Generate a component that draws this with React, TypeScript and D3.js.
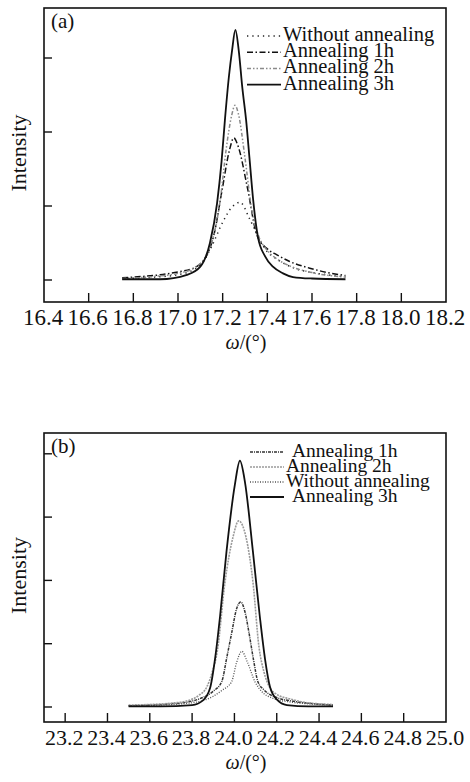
import React from 'react';
import * as d3 from 'd3';

// panel (a) rocking curves, [omega, intensity]
const aWithout: [number, number][] = [
  [16.75, 0.02], [16.9, 0.04], [17.0, 0.07], [17.1, 0.2], [17.15, 0.45], [17.2, 0.78],
  [17.24, 0.98], [17.278, 1.05], [17.32, 0.83], [17.36, 0.58], [17.39, 0.42], [17.45, 0.27],
  [17.52, 0.16], [17.6, 0.1], [17.67, 0.07], [17.75, 0.04],
];
const a1h: [number, number][] = [
  [16.75, 0.03], [16.85, 0.05], [16.92, 0.07], [17.0, 0.11], [17.07, 0.16], [17.13, 0.34],
  [17.16, 0.6], [17.2, 1.26], [17.23, 1.75], [17.25, 1.92], [17.27, 1.8], [17.31, 1.26],
  [17.354, 0.6], [17.4, 0.42], [17.443, 0.34], [17.5, 0.25], [17.59, 0.16], [17.67, 0.1],
  [17.75, 0.06],
];
const a2h: [number, number][] = [
  [16.75, 0.02], [16.9, 0.05], [17.0, 0.09], [17.07, 0.16], [17.12, 0.3], [17.15, 0.5],
  [17.19, 1.1], [17.215, 1.75], [17.24, 2.22], [17.255, 2.36], [17.27, 2.25], [17.3, 1.65],
  [17.33, 0.95], [17.36, 0.6], [17.4, 0.4], [17.45, 0.27], [17.5, 0.19], [17.6, 0.1],
  [17.75, 0.04],
];
const a3h: [number, number][] = [
  [16.75, 0.01], [16.92, 0.01], [17.04, 0.07], [17.1, 0.18], [17.143, 0.5], [17.175, 1.04],
  [17.195, 1.6], [17.21, 2.16], [17.228, 2.75], [17.242, 3.1], [17.257, 3.38], [17.272, 3.1],
  [17.288, 2.6], [17.305, 2.16], [17.32, 1.65], [17.336, 1.1], [17.358, 0.58], [17.39, 0.32],
  [17.425, 0.18], [17.47, 0.09], [17.515, 0.04], [17.6, 0.02], [17.75, 0.01],
];

// panel (b)
const b1h: [number, number][] = [
  [23.5, 0.02], [23.6, 0.03], [23.7, 0.05], [23.78, 0.08], [23.85, 0.15], [23.9, 0.25],
  [23.94, 0.4], [23.965, 0.8], [23.987, 1.17], [24.01, 1.55], [24.03, 1.66], [24.05, 1.5],
  [24.069, 1.17], [24.09, 0.75], [24.111, 0.4], [24.14, 0.27], [24.2, 0.15], [24.28, 0.09],
  [24.38, 0.05], [24.466, 0.03],
];
const b2h: [number, number][] = [
  [23.5, 0.03], [23.6, 0.04], [23.7, 0.06], [23.78, 0.1], [23.83, 0.18], [23.87, 0.32],
  [23.895, 0.55], [23.92, 0.9], [23.955, 1.96], [23.993, 2.68], [24.02, 2.94], [24.055, 2.68],
  [24.088, 1.96], [24.116, 0.95], [24.14, 0.55], [24.168, 0.3], [24.2, 0.2], [24.26, 0.13],
  [24.32, 0.08], [24.4, 0.05], [24.466, 0.04],
];
const bWithout: [number, number][] = [
  [23.5, 0.02], [23.65, 0.03], [23.75, 0.05], [23.85, 0.1], [23.9, 0.17], [23.94, 0.26],
  [23.987, 0.4], [24.01, 0.7], [24.035, 0.88], [24.06, 0.72], [24.097, 0.4], [24.13, 0.24],
  [24.18, 0.14], [24.26, 0.08], [24.35, 0.05], [24.466, 0.03],
];
const b3h: [number, number][] = [
  [23.5, 0.01], [23.65, 0.01], [23.8, 0.03], [23.85, 0.1], [23.885, 0.3], [23.91, 0.8],
  [23.932, 1.43], [23.963, 2.47], [24.002, 3.51], [24.026, 3.89], [24.05, 3.55], [24.087, 2.47],
  [24.12, 1.43], [24.145, 0.75], [24.168, 0.32], [24.2, 0.12], [24.248, 0.03], [24.35, 0.01],
  [24.466, 0.01],
];

const aTicks = [16.4, 16.6, 16.8, 17.0, 17.2, 17.4, 17.6, 17.8, 18.0, 18.2];
const bTicks = [23.2, 23.4, 23.6, 23.8, 24.0, 24.2, 24.4, 24.6, 24.8, 25.0];
const aYTicks = [0, 1, 2, 3];
const bYTicks = [0, 1, 2, 3, 4];

const FONT = 'Liberation Serif';

type Series = { label: string; data: [number, number][]; stroke: string; dash?: string; width: number; lx: number };

const Panel = ({ tag, top, bottom, baseY, tickStep, xDomain, xTicks, yTicks, series, legendTop, legendGap, lineX, legendSize, tickSize }: any) => {
  const left = 44, right = 446;
  const x = d3.scaleLinear().domain(xDomain).range([left, right]);
  const y = d3.scaleLinear().domain([0, 1]).range([baseY, baseY - tickStep]);
  const line = d3.line<[number, number]>().x(d => x(d[0])).y(d => y(d[1])).curve(d3.curveMonotoneX);
  const midY = (top + bottom) / 2;
  return (
    <g>
      {series.map((s: Series) => (
        <path key={s.label} d={line(s.data) || ''} fill="none" stroke={s.stroke}
          strokeWidth={s.width} strokeDasharray={s.dash} strokeLinejoin="round" />
      ))}
      <rect x={left} y={top} width={right - left} height={bottom - top} fill="none" stroke="#111" strokeWidth={1.6} />
      {xTicks.map((t: number) => {
        const px = x(t);
        return (
          <g key={t}>
            {px > left + 2 && px < right - 2 && (
              <line x1={px} x2={px} y1={bottom} y2={bottom - 9} stroke="#111" strokeWidth={1.4} />
            )}
            <text x={px - 1} y={bottom + 23} textAnchor="middle" fontSize={tickSize} fill="#111" fontFamily={FONT}>
              {t.toFixed(1)}
            </text>
          </g>
        );
      })}
      {yTicks.map((t: number) => (
        <line key={t} x1={left} x2={left + 8} y1={y(t)} y2={y(t)} stroke="#111" strokeWidth={1.4} />
      ))}
      <text x={(left + right) / 2 + 1} y={bottom + 47} textAnchor="middle" fontSize={20} fill="#111" fontFamily={FONT}>
        <tspan fontStyle="italic">ω</tspan>/(°)
      </text>
      <text transform={`translate(26,${midY - 2}) rotate(-90)`} textAnchor="middle" fontSize={22} fill="#111" fontFamily={FONT}>
        Intensity
      </text>
      <text x={51} y={top + 20} fontSize={21} fill="#111" fontFamily={FONT}>{tag}</text>
      {series.slice().sort((p: any, q: any) => p.order - q.order).map((s: any, i: number) => {
        const by = legendTop + i * legendGap;
        return (
          <g key={'lg' + s.label}>
            <line x1={lineX[0]} x2={lineX[1]} y1={by - 5} y2={by - 5} stroke={s.stroke}
              strokeWidth={s.width} strokeDasharray={s.dash} />
            <text x={s.lx} y={by} fontSize={legendSize} fill="#111" fontFamily={FONT}>{s.label}</text>
          </g>
        );
      })}
    </g>
  );
};

export default function App() {
  const seriesA = [
    { label: 'Without annealing', data: aWithout, stroke: '#222', dash: '1.3,4', width: 1.5, lx: 283, order: 0 },
    { label: 'Annealing 1h', data: a1h, stroke: '#111', dash: '6,2.5,1.5,2.5', width: 1.5, lx: 283, order: 1 },
    { label: 'Annealing 2h', data: a2h, stroke: '#8a8a8a', dash: '4,2,1.5,2,1.5,2', width: 1.5, lx: 283, order: 2 },
    { label: 'Annealing 3h', data: a3h, stroke: '#111', width: 1.8, lx: 283, order: 3 },
  ];
  const seriesB = [
    { label: 'Annealing 1h', data: b1h, stroke: '#333', dash: '3,1,1,1', width: 1.5, lx: 292, order: 0 },
    { label: 'Annealing 2h', data: b2h, stroke: '#9a9a9a', dash: '2,1', width: 1.6, lx: 286, order: 1 },
    { label: 'Without annealing', data: bWithout, stroke: '#555', dash: '1,1.5', width: 1.3, lx: 286, order: 2 },
    { label: 'Annealing 3h', data: b3h, stroke: '#111', width: 1.8, lx: 292, order: 3 },
  ];
  return (
    <svg width={470} height={782} style={{ position: 'absolute', left: 0, top: 0, background: '#fff' }}>
      <rect width={470} height={782} fill="#fff" />
      <Panel tag="(a)" top={8} bottom={302} baseY={280} tickStep={74} xDomain={[16.4, 18.2]} tickSize={23}
        xTicks={aTicks} yTicks={aYTicks} series={seriesA} legendTop={41} legendGap={16.2} lineX={[247, 281]} legendSize={20.5} />
      <Panel tag="(b)" top={433} bottom={722} baseY={707} tickStep={63.3} xDomain={[23.1, 25.0]} tickSize={22}
        xTicks={bTicks} yTicks={bYTicks} series={seriesB} legendTop={457} legendGap={15} lineX={[250, 284]} legendSize={19.5} />
    </svg>
  );
}
